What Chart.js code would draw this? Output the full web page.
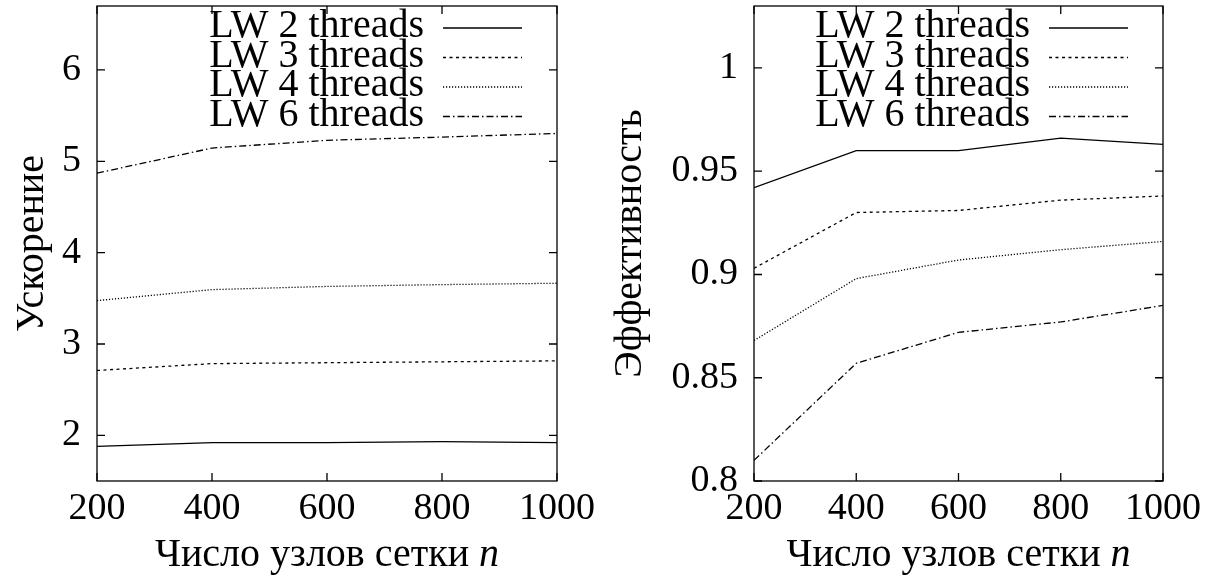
<!DOCTYPE html>
<html>
<head>
<meta charset="utf-8">
<script src="https://cdn.jsdelivr.net/npm/chart.js@4.4.0/dist/chart.umd.min.js"></script>
<style>
  body { margin: 0; background: #fff; }
  #wrap { display: flex; width: 1212px; height: 576px; }
  canvas { display: block; }
</style>
</head>
<body>
<div id="wrap">
  <canvas id="speedupChart" width="606" height="576"></canvas>
  <canvas id="effChart" width="606" height="576"></canvas>
</div>
<script>
const nodes = [200, 400, 600, 800, 1000];
const seriesNames = ['LW 2 threads', 'LW 3 threads', 'LW 4 threads', 'LW 6 threads'];

const speedup2 = [1.88, 1.92, 1.92, 1.93, 1.92];
const speedup3 = [2.71, 2.785, 2.795, 2.805, 2.815];
const speedup4 = [3.475, 3.595, 3.63, 3.65, 3.665];
const speedup6 = [4.87, 5.145, 5.23, 5.265, 5.305];

const eff2 = [0.942, 0.960, 0.960, 0.966, 0.963];
const eff3 = [0.903, 0.930, 0.931, 0.936, 0.938];
const eff4 = [0.868, 0.898, 0.907, 0.912, 0.916];
const eff6 = [0.810, 0.857, 0.872, 0.877, 0.885];

const xTicks = [200, 400, 600, 800, 1000];
const speedupTicks = [2, 3, 4, 5, 6];
const effTicks = [0.8, 0.85, 0.9, 0.95, 1];

const FONT = '"Liberation Serif", "Times New Roman", serif';
const dashes = [[], [3, 3.5], [1.2, 1.8], [7, 3, 1.5, 3]];

// box, inward ticks on all four sides, legend and x title
const framePlugin = {
  id: 'frame',
  afterDatasetsDraw(chart) {
    const ctx = chart.ctx;
    const a = chart.chartArea;
    const xs = chart.scales.x, ys = chart.scales.y;
    ctx.save();
    ctx.strokeStyle = '#000';
    ctx.lineWidth = 1.3;
    ctx.setLineDash([]);
    ctx.strokeRect(a.left, a.top, a.right - a.left, a.bottom - a.top);
    ctx.beginPath();
    xs.ticks.forEach(t => {
      const px = xs.getPixelForValue(t.value);
      ctx.moveTo(px, a.bottom); ctx.lineTo(px, a.bottom - 8);
      ctx.moveTo(px, a.top); ctx.lineTo(px, a.top + 8);
    });
    ys.ticks.forEach(t => {
      const py = ys.getPixelForValue(t.value);
      ctx.moveTo(a.left, py); ctx.lineTo(a.left + 8, py);
      ctx.moveTo(a.right, py); ctx.lineTo(a.right - 8, py);
    });
    ctx.stroke();

    // legend
    ctx.font = '40px ' + FONT;
    ctx.fillStyle = '#000';
    ctx.textAlign = 'right';
    ctx.textBaseline = 'alphabetic';
    chart.data.datasets.forEach((ds, i) => {
      const y = a.top + 22 + i * 29.5;
      ctx.fillText(ds.label, a.right - 133, y + 9);
      ctx.beginPath();
      ctx.lineWidth = 1.3;
      ctx.setLineDash(ds.borderDash);
      ctx.moveTo(a.right - 114, y);
      ctx.lineTo(a.right - 35, y);
      ctx.stroke();
    });
    ctx.setLineDash([]);

    // x title with italic n
    const main = 'Число узлов сетки ';
    ctx.font = '40px ' + FONT;
    const w1 = ctx.measureText(main).width;
    ctx.font = 'italic 40px ' + FONT;
    const w2 = ctx.measureText('n').width;
    const x0 = (a.left + a.right) / 2 - (w1 + w2) / 2;
    ctx.textAlign = 'left';
    ctx.textBaseline = 'alphabetic';
    ctx.font = '40px ' + FONT;
    ctx.fillText(main, x0, 566);
    ctx.font = 'italic 40px ' + FONT;
    ctx.fillText('n', x0 + w1, 566);
    ctx.restore();
  }
};

function makeChart(id, series, yTitle, yMin, yMax, yTicks, yWidth, titlePad) {
  const ctx = document.getElementById(id).getContext('2d');
  return new Chart(ctx, {
    type: 'line',
    data: {
      datasets: series.map((vals, i) => ({
        label: seriesNames[i],
        data: nodes.map((n, j) => ({ x: n, y: vals[j] })),
        borderColor: '#000',
        borderWidth: 1.3,
        borderDash: dashes[i],
        pointRadius: 0,
        fill: false,
        tension: 0
      }))
    },
    options: {
      responsive: false,
      animation: false,
      layout: { padding: { top: 6, right: 49, left: 0, bottom: 0 } },
      plugins: { legend: { display: false }, tooltip: { enabled: false } },
      scales: {
        x: {
          type: 'linear',
          min: 200,
          max: 1000,
          afterBuildTicks: s => { s.ticks = xTicks.map(v => ({ value: v })); },
          afterFit: s => { s.height = 95; s.paddingLeft = 0; s.paddingRight = 0; },
          grid: { display: false, drawTicks: false },
          border: { display: false },
          ticks: {
            color: '#000',
            font: { family: FONT, size: 38 },
            padding: 5,
            maxRotation: 0,
            callback: v => String(v)
          }
        },
        y: {
          type: 'linear',
          min: yMin,
          max: yMax,
          afterBuildTicks: s => { s.ticks = yTicks.map(v => ({ value: v })); },
          afterFit: s => { s.width = yWidth; s.paddingTop = 0; s.paddingBottom = 0; },
          grid: { display: false, drawTicks: false },
          border: { display: false },
          ticks: {
            color: '#000',
            font: { family: FONT, size: 38 },
            padding: 16,
            callback: v => String(v)
          },
          title: {
            display: true,
            text: yTitle,
            color: '#000',
            font: { family: FONT, size: 40 },
            padding: { top: titlePad, bottom: 0 }
          }
        }
      }
    },
    plugins: [framePlugin]
  });
}

makeChart('speedupChart', [speedup2, speedup3, speedup4, speedup6], 'Ускорение', 1.5, 6.7, speedupTicks, 97, 8);
makeChart('effChart', [eff2, eff3, eff4, eff6], 'Эффективность', 0.8, 1.03, effTicks, 148, 0);
</script>
</body>
</html>
